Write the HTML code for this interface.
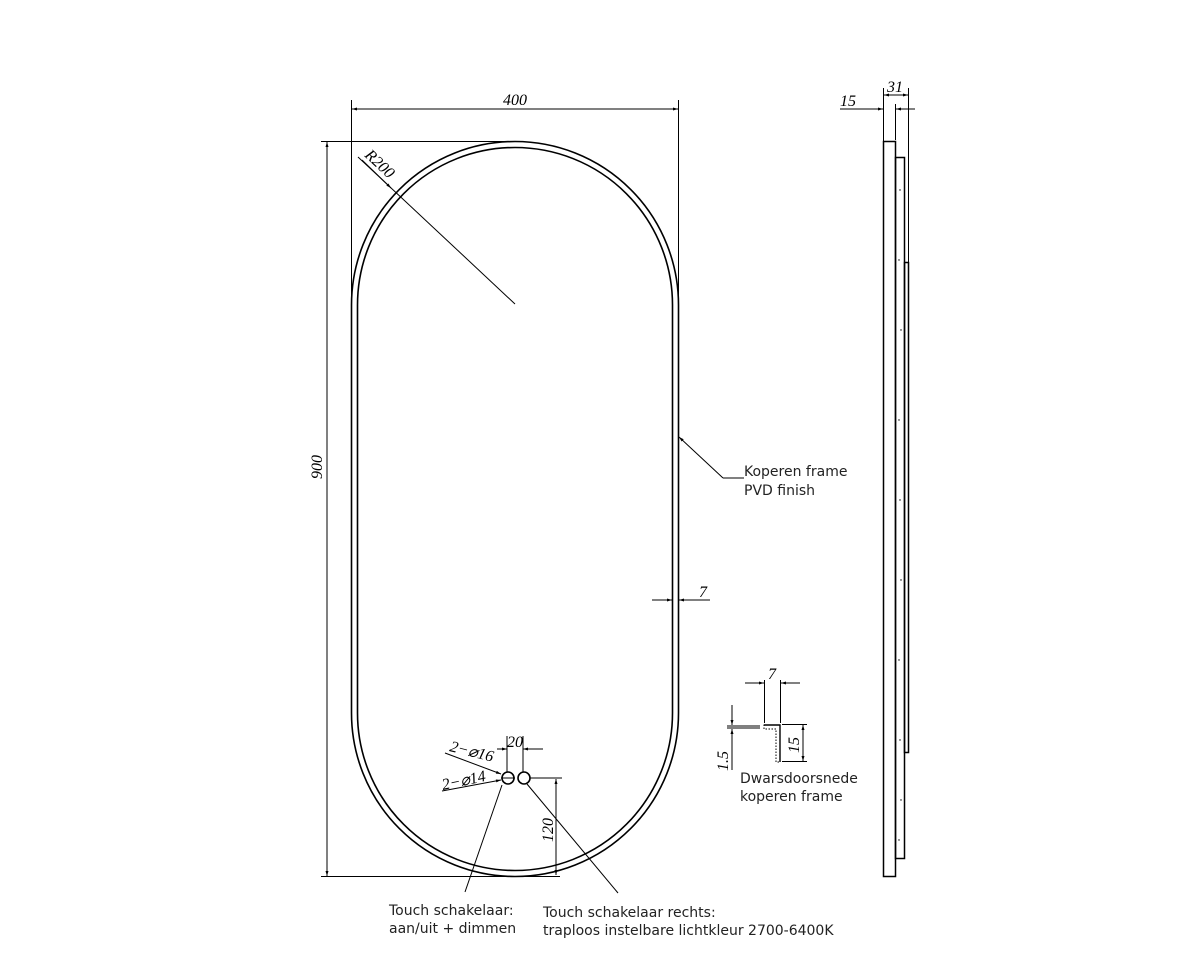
<!DOCTYPE html>
<html><head><meta charset="utf-8"><style>
html,body{margin:0;padding:0;background:#fff;}
svg{display:block;}
.d{font-family:"Liberation Serif",serif;font-style:italic;font-size:16px;fill:#000;}
.t{font-family:"DejaVu Sans",sans-serif;font-size:14px;fill:#222;}
</style></head><body>
<svg width="1198" height="977" viewBox="0 0 1198 977" xmlns="http://www.w3.org/2000/svg">
<defs>
<marker id="a" viewBox="0 0 10 10" refX="10" refY="5" markerWidth="9" markerHeight="5" orient="auto-start-reverse" markerUnits="userSpaceOnUse"><path d="M0,2 L10,5 L0,8z" fill="#000"/></marker>
</defs>
<g fill="none" stroke="#000" stroke-width="1.6">
<rect x="351.5" y="141.5" width="327" height="735" rx="163.5" ry="163.5"/>
<rect x="357.5" y="147.5" width="315" height="723" rx="157.5" ry="157.5"/>
</g>
<g fill="none" stroke="#000" stroke-width="1">
<line x1="351.5" y1="100" x2="351.5" y2="300"/>
<line x1="678.5" y1="100" x2="678.5" y2="300"/>
<line x1="352" y1="109" x2="678" y2="109" marker-start="url(#a)" marker-end="url(#a)"/>
<line x1="321" y1="141.5" x2="512" y2="141.5"/>
<line x1="321" y1="876.5" x2="560" y2="876.5"/>
<line x1="327" y1="142" x2="327" y2="876" marker-start="url(#a)" marker-end="url(#a)"/>
<line x1="358" y1="157" x2="515" y2="304"/>
<line x1="362" y1="160" x2="391" y2="188" marker-end="url(#a)"/>
<line x1="723" y1="478" x2="744" y2="478"/>
<line x1="723" y1="478" x2="679" y2="437" marker-end="url(#a)"/>
<line x1="652" y1="600" x2="672" y2="600" marker-end="url(#a)"/>
<line x1="710" y1="600" x2="679" y2="600" marker-end="url(#a)"/>
<circle cx="508" cy="778" r="6" stroke-width="1.6"/>
<circle cx="524" cy="778" r="6" stroke-width="1.6"/>
<line x1="501" y1="778" x2="515" y2="778"/>
<line x1="507" y1="736" x2="507" y2="772"/>
<line x1="523" y1="736" x2="523" y2="772"/>
<line x1="497" y1="749" x2="507" y2="749" marker-end="url(#a)"/>
<line x1="543" y1="749" x2="523" y2="749" marker-end="url(#a)"/>
<line x1="445" y1="753" x2="501" y2="774" marker-end="url(#a)"/>
<line x1="442" y1="791" x2="501" y2="780" marker-end="url(#a)"/>
<line x1="530" y1="778" x2="562" y2="778"/>
<line x1="556" y1="779" x2="556" y2="875" marker-start="url(#a)" marker-end="url(#a)"/>
<line x1="502" y1="785" x2="465" y2="892"/>
<line x1="527" y1="784" x2="618" y2="893"/>
<line x1="764.5" y1="680" x2="764.5" y2="723"/>
<line x1="780.5" y1="680" x2="780.5" y2="723"/>
<line x1="745" y1="683" x2="764" y2="683" marker-end="url(#a)"/>
<line x1="800" y1="683" x2="781" y2="683" marker-end="url(#a)"/>
<line x1="727" y1="726" x2="760" y2="726"/>
<line x1="727" y1="728" x2="760" y2="728"/>
<line x1="732" y1="705" x2="732" y2="725" marker-end="url(#a)"/>
<line x1="732" y1="770" x2="732" y2="729" marker-end="url(#a)"/>
<path d="M764,725 H780 V762 H776 V729 H764Z" stroke-dasharray="1.5 1.5"/>
<path d="M764,725 H780 V762" stroke-width="1.4"/>
<line x1="782" y1="724.5" x2="807" y2="724.5"/>
<line x1="782" y1="761.5" x2="807" y2="761.5"/>
<line x1="803" y1="725" x2="803" y2="761" marker-start="url(#a)" marker-end="url(#a)"/>
<rect x="883.5" y="141.5" width="12" height="735" stroke-width="1.5"/>
<rect x="895.5" y="157.5" width="9" height="701" stroke-width="1.5"/>
<rect x="904.5" y="262.5" width="4" height="490" stroke-width="1.5"/>
<line x1="883.5" y1="88" x2="883.5" y2="141"/>
<line x1="908.5" y1="88" x2="908.5" y2="262"/>
<line x1="895.5" y1="104" x2="895.5" y2="140"/>
<line x1="840" y1="109" x2="883" y2="109" marker-end="url(#a)"/>
<line x1="915" y1="109" x2="896" y2="109" marker-end="url(#a)"/>
<line x1="884" y1="95" x2="908" y2="95" marker-start="url(#a)" marker-end="url(#a)"/>
</g>
<g fill="#000">
<circle cx="900" cy="190" r=".7"/><circle cx="899" cy="260" r=".7"/><circle cx="901" cy="330" r=".7"/><circle cx="899" cy="420" r=".7"/><circle cx="900" cy="500" r=".7"/><circle cx="901" cy="580" r=".7"/><circle cx="899" cy="660" r=".7"/><circle cx="900" cy="740" r=".7"/><circle cx="901" cy="800" r=".7"/><circle cx="899" cy="840" r=".7"/>
</g>
<text class="d" x="503" y="105">400</text>
<text class="d" transform="translate(322,479) rotate(-90)">900</text>
<text class="d" transform="translate(364,156) rotate(43)">R200</text>
<text class="d" x="699" y="597">7</text>
<text class="d" x="507" y="747">20</text>
<text class="d" transform="translate(449,751) rotate(14)">2−⌀16</text>
<text class="d" transform="translate(443,790) rotate(-12)">2−⌀14</text>
<text class="d" transform="translate(553,842) rotate(-90)">120</text>
<text class="d" x="768" y="679">7</text>
<text class="d" transform="translate(728,771) rotate(-90)">1.5</text>
<text class="d" transform="translate(799,753) rotate(-90)">15</text>
<text class="d" x="840" y="106">15</text>
<text class="d" x="887" y="92">31</text>
<text class="t" x="744" y="476">Koperen frame</text>
<text class="t" x="744" y="495">PVD finish</text>
<text class="t" x="740" y="783">Dwarsdoorsnede</text>
<text class="t" x="740" y="801">koperen frame</text>
<text class="t" x="389" y="915">Touch schakelaar:</text>
<text class="t" x="389" y="933">aan/uit + dimmen</text>
<text class="t" x="543" y="917">Touch schakelaar rechts:</text>
<text class="t" x="543" y="935">traploos instelbare lichtkleur 2700-6400K</text>
</svg>
</body></html>
